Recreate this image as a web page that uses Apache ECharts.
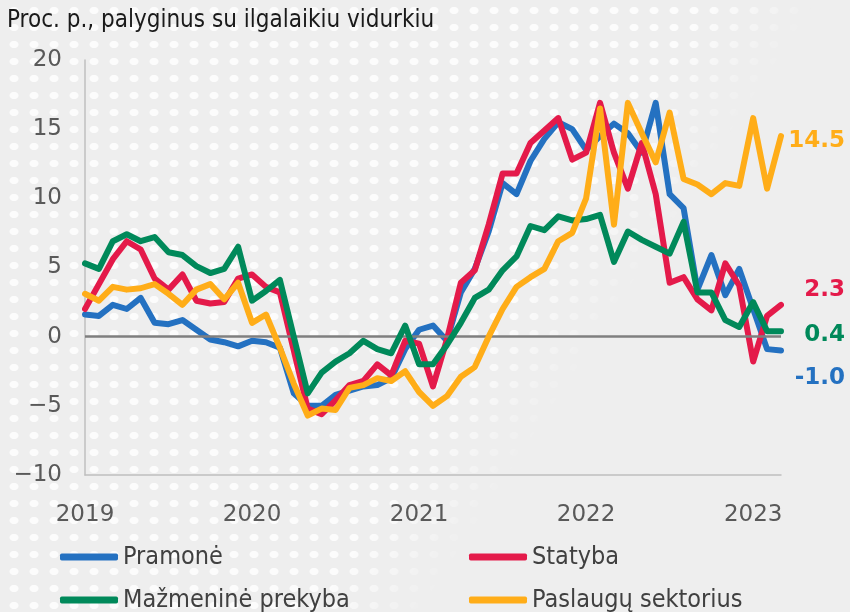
<!DOCTYPE html>
<html>
<head>
<meta charset="utf-8">
<script src="https://cdn.jsdelivr.net/npm/echarts@6/dist/echarts.min.js"></script>
<style>
  html, body { margin: 0; padding: 0; background: #eeeeee; }
  #wrap { position: relative; width: 850px; height: 612px; overflow: hidden; }
  #dots {
    position: absolute; left: 0; top: 0; width: 850px; height: 612px;
    background-image: radial-gradient(5px 4px at 50% 50%, rgba(255,255,255,0.8) 80%, rgba(255,255,255,0) 100%);
    background-size: 20px 17px;
    background-position: 4px 2px;
    -webkit-mask-image: linear-gradient(123deg, #000 57%, transparent 66%);
    mask-image: linear-gradient(123deg, #000 57%, transparent 66%);
  }
  #chart { position: absolute; left: 0; top: 0; width: 850px; height: 612px; }
</style>
</head>
<body>
<div id="wrap">
  <div id="dots"></div>
  <div id="chart"></div>
</div>
<script>
const months = [
  '2019-01', '2019-02', '2019-03', '2019-04', '2019-05', '2019-06', '2019-07', '2019-08', '2019-09', '2019-10', '2019-11', '2019-12',
  '2020-01', '2020-02', '2020-03', '2020-04', '2020-05', '2020-06', '2020-07', '2020-08', '2020-09', '2020-10', '2020-11', '2020-12',
  '2021-01', '2021-02', '2021-03', '2021-04', '2021-05', '2021-06', '2021-07', '2021-08', '2021-09', '2021-10', '2021-11', '2021-12',
  '2022-01', '2022-02', '2022-03', '2022-04', '2022-05', '2022-06', '2022-07', '2022-08', '2022-09', '2022-10', '2022-11', '2022-12',
  '2023-01', '2023-02', '2023-03'
]

const seriesNames = ['Pramonė', 'Statyba', 'Mažmeninė prekyba', 'Paslaugų sektorius']
const colors = ['#2471c1', '#e41a4a', '#00895a', '#ffad18']
const endLabels = ['-1.0', '2.3', '0.4', '14.5']

// Pramonė
const industry = [
  1.6, 1.5, 2.3, 2.0, 2.8, 1.0, 0.9, 1.2, 0.5, -0.2, -0.4, -0.7,
  -0.3, -0.4, -0.8, -4.1, -5.0, -5.0, -4.2, -3.9, -3.6, -3.5, -3.0, -0.9,
  0.5, 0.8, -0.3, 3.2, 4.9, 7.6, 11.1, 10.3, 12.7, 14.3, 15.5, 15.0,
  13.5, 14.5, 15.4, 14.7, 13.3, 16.9, 10.3, 9.3, 3.4, 5.9, 3.0, 4.9,
  2.0, -0.9, -1.0
]
// Statyba
const construction = [
  2.0, 3.8, 5.6, 6.9, 6.3, 4.2, 3.4, 4.5, 2.6, 2.4, 2.5, 4.2,
  4.5, 3.6, 3.2, -1.0, -5.2, -5.6, -4.6, -3.5, -3.2, -2.0, -2.8, -0.3,
  -0.5, -3.6, -0.2, 3.9, 4.8, 8.1, 11.8, 11.8, 14.0, 14.9, 15.8, 12.8,
  13.3, 16.9, 13.3, 10.7, 14.0, 10.3, 3.9, 4.3, 2.7, 1.9, 5.3, 3.7,
  -1.8, 1.5, 2.3
]
// Mažmeninė prekyba
const retail = [
  5.3, 4.9, 6.9, 7.4, 6.9, 7.2, 6.1, 5.9, 5.1, 4.6, 4.9, 6.5,
  2.6, 3.3, 4.1, 0.0, -4.1, -2.6, -1.8, -1.2, -0.3, -0.9, -1.2, 0.8,
  -2.0, -2.0, -0.6, 1.0, 2.8, 3.4, 4.8, 5.8, 8.0, 7.7, 8.7, 8.4,
  8.5, 8.8, 5.4, 7.6, 7.0, 6.5, 6.0, 8.3, 3.2, 3.2, 1.2, 0.7,
  2.5, 0.4, 0.4
]
// Paslaugų sektorius
const services = [
  3.1, 2.6, 3.6, 3.4, 3.5, 3.8, 3.1, 2.3, 3.4, 3.8, 2.7, 3.9,
  1.0, 1.6, -0.8, -3.4, -5.7, -5.2, -5.3, -3.7, -3.5, -3.0, -3.2, -2.5,
  -4.0, -5.0, -4.3, -2.9, -2.2, 0.0, 2.0, 3.6, 4.3, 4.9, 6.9, 7.5,
  10.0, 16.5, 8.1, 16.9, 14.7, 12.6, 16.2, 11.4, 11.0, 10.3, 11.1, 10.9,
  15.8, 10.7, 14.5
]

const seriesData = [industry, construction, retail, services]
// label nudges so the end values sit like in the original
const endOffsets = [[64, 28], [64, -15], [64, 4], [64, 5]]

const yTicks = { min: -10, max: 20, interval: 5 }

const chart = echarts.init(document.getElementById('chart'), null, { renderer: 'canvas' })

const tickFont = { fontFamily: 'DejaVu Sans', fontSize: 23, color: '#595959' }
const legendText = { fontFamily: 'DejaVu Sans Condensed', fontSize: 25, color: '#404040', lineHeight: 30 }

const legendBase = {
  orient: 'vertical',
  top: 542,
  height: 100,
  padding: 0,
  icon: 'roundRect',
  itemWidth: 58,
  itemHeight: 7,
  itemGap: 13,
  textStyle: legendText
}

chart.setOption({
  animation: false,
  backgroundColor: 'transparent',
  title: {
    text: 'Proc. p., palyginus su ilgalaikiu vidurkiu',
    left: 2,
    top: 4,
    textStyle: { fontFamily: 'DejaVu Sans Condensed', fontSize: 24, fontWeight: 'normal', color: '#1a1a1a' }
  },
  grid: { left: 85, right: 69, top: 60, bottom: 137, containLabel: false },
  legend: [
    Object.assign({ data: [seriesNames[0], seriesNames[2]], left: 60 }, legendBase),
    Object.assign({ data: [seriesNames[1], seriesNames[3]], left: 469 }, legendBase)
  ],
  xAxis: {
    type: 'category',
    data: months,
    boundaryGap: false,
    axisLine: { onZero: false, lineStyle: { color: '#bfbfbf', width: 1.5 } },
    axisTick: { show: false },
    axisLabel: Object.assign({
      margin: 29,
      interval: (idx, val) => val.endsWith('-01'),
      formatter: val => val.slice(0, 4)
    }, tickFont),
    splitLine: { show: false }
  },
  yAxis: {
    type: 'value',
    min: yTicks.min,
    max: yTicks.max,
    interval: yTicks.interval,
    axisLine: { show: true, lineStyle: { color: '#bfbfbf', width: 1.5 } },
    axisTick: { show: false },
    axisLabel: Object.assign({
      margin: 23,
      formatter: v => (v < 0 ? '\u2212' + Math.abs(v) : String(v))
    }, tickFont),
    splitLine: { show: false }
  },
  series: seriesNames.map((name, i) => ({
    name: name,
    type: 'line',
    data: seriesData[i],
    showSymbol: false,
    symbol: 'none',
    color: colors[i],
    lineStyle: { width: 6, color: colors[i], cap: 'round', join: 'round' },
    endLabel: {
      show: true,
      formatter: () => endLabels[i],
      color: colors[i],
      fontFamily: 'DejaVu Sans',
      fontWeight: 'bold',
      fontSize: 23,
      align: 'right',
      verticalAlign: 'middle',
      distance: 0,
      offset: endOffsets[i]
    },
    markLine: i === 0 ? {
      silent: true,
      symbol: 'none',
      label: { show: false },
      lineStyle: { color: '#7f7f7f', width: 2.5, type: 'solid' },
      data: [{ yAxis: 0 }]
    } : undefined,
    z: 3 + i
  }))
})
</script>
</body>
</html>
